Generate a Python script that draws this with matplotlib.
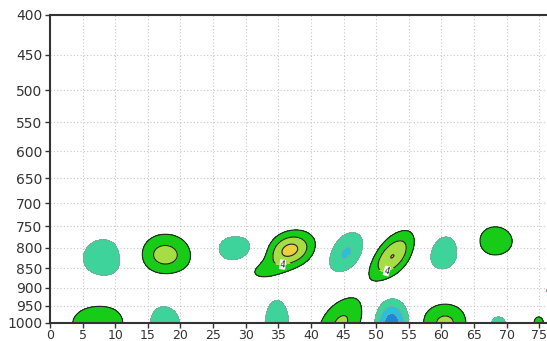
import numpy as np
import matplotlib
matplotlib.use('Agg')
import matplotlib.pyplot as plt
from matplotlib.colors import ListedColormap, BoundaryNorm

# blobs: centre (x, hPa), peak value,
# half-width of the +/-2 contour in x and in hPa, tilt (x shift per hPa)
blob_x = [8.4, 17.5, 28.5, 36.7, 32.8, 45.4, 52.5, 60.5, 68.2,
          7.8, 17.1, 34.8, 44.6, 52.4, 60.6, 68.6, 74.8, 78.0]
blob_p = [825, 817, 803, 805, 858, 812, 820, 812, 784,
          1000, 1000, 1000, 1000, 1000, 1000, 1000, 1000, 910]
blob_amp = [-3.0, 5.0, -3.0, 6.8, 2.6, -4.3, 6.05, -3.0, 3.2,
            3.5, -3.0, -3.0, 4.3, -7.5, 4.5, -2.3, 2.3, -2.5]
blob_wx = [3.3, 4.3, 2.8, 4.0, 1.8, 2.5, 3.0, 2.2, 2.65,
           4.3, 2.8, 1.8, 3.1, 2.9, 3.5, 1.3, 0.9, 2.3]
blob_wp = [46, 50, 30, 47, 16, 48, 61, 40, 33,
           52, 52, 65, 71, 71, 55, 20, 22, 16]
blob_tilt = [0.0, 0.0, 0.0, -0.02, 0.0, -0.02, -0.033, -0.01, 0.0,
             0.0, 0.0, 0.0, -0.02, 0.0, 0.0, 0.0, 0.0, 0.0]

levels = [-10, -6, -4, -2, 2, 4, 6, 10]
fill_colors = ['#1f86d8', '#28c0dc', '#3fd39c', (1, 1, 1, 0),
               '#17cc17', '#a6dc44', '#ebcf3e']
label_x = [35.6, 51.9]
label_p = [832, 869]

x_ticks = np.arange(0, 80, 5)
p_ticks = [400, 450, 500, 550, 600, 650, 700, 750, 800, 850, 900, 950, 1000]

xx = np.linspace(0, 76.5, 500)
pp = np.linspace(395, 1000, 500)
X, P = np.meshgrid(xx, pp)
Z = np.zeros_like(X)
for x0, p0, a, wx, wp, k in zip(blob_x, blob_p, blob_amp, blob_wx, blob_wp, blob_tilt):
    f = np.sqrt(2 * np.log(abs(a) / 2.0))
    sx = wx / f
    sp = wp / f
    Z += a * np.exp(-0.5 * ((X - x0 - k * (P - p0)) / sx) ** 2 - 0.5 * ((P - p0) / sp) ** 2)

fig = plt.figure(figsize=(5.47, 3.41), dpi=100)
ax = fig.add_axes([50 / 547, 18 / 341, 497 / 547, 308 / 341])

cmap = ListedColormap(fill_colors)
norm = BoundaryNorm(levels, cmap.N)
ax.contourf(X, P, Z, levels=levels, cmap=cmap, norm=norm)
ax.contour(X, P, Z, levels=[-6, -4, -2], colors='#9a9a9a',
           linewidths=0.6, linestyles='dashed')
ax.contour(X, P, Z, levels=[2, 6], colors='#222222', linewidths=0.8)
cs4 = ax.contour(X, P, Z, levels=[4], colors='#222222', linewidths=0.8)
lbls = ax.clabel(cs4, fmt='%d', fontsize=6, inline=True,
                 manual=list(zip(label_x, label_p)))
for t in lbls:
    t.set_bbox(dict(facecolor='white', edgecolor='none', pad=0.3))

ax.set_yscale('log')
ax.set_ylim(1000, 400)
ax.set_xlim(0, 76.2)
ax.set_yticks(p_ticks)
ax.set_yticklabels([str(p) for p in p_ticks])
ax.yaxis.set_minor_locator(matplotlib.ticker.NullLocator())
ax.set_xticks(x_ticks)
ax.grid(True, color='#c8c8c8', linestyle=(0, (1, 2)), linewidth=0.8)
ax.set_axisbelow(True)

for side in ['left', 'top', 'bottom']:
    ax.spines[side].set_color('#333333')
    ax.spines[side].set_linewidth(1.5)
ax.spines['right'].set_visible(False)
ax.tick_params(axis='both', direction='out', length=3.5, width=1,
               color='#333333', labelsize=10, labelcolor='#333333', pad=2)
ax.tick_params(axis='x', pad=0.5, labelsize=9)

fig.savefig('out.png', dpi=100)
